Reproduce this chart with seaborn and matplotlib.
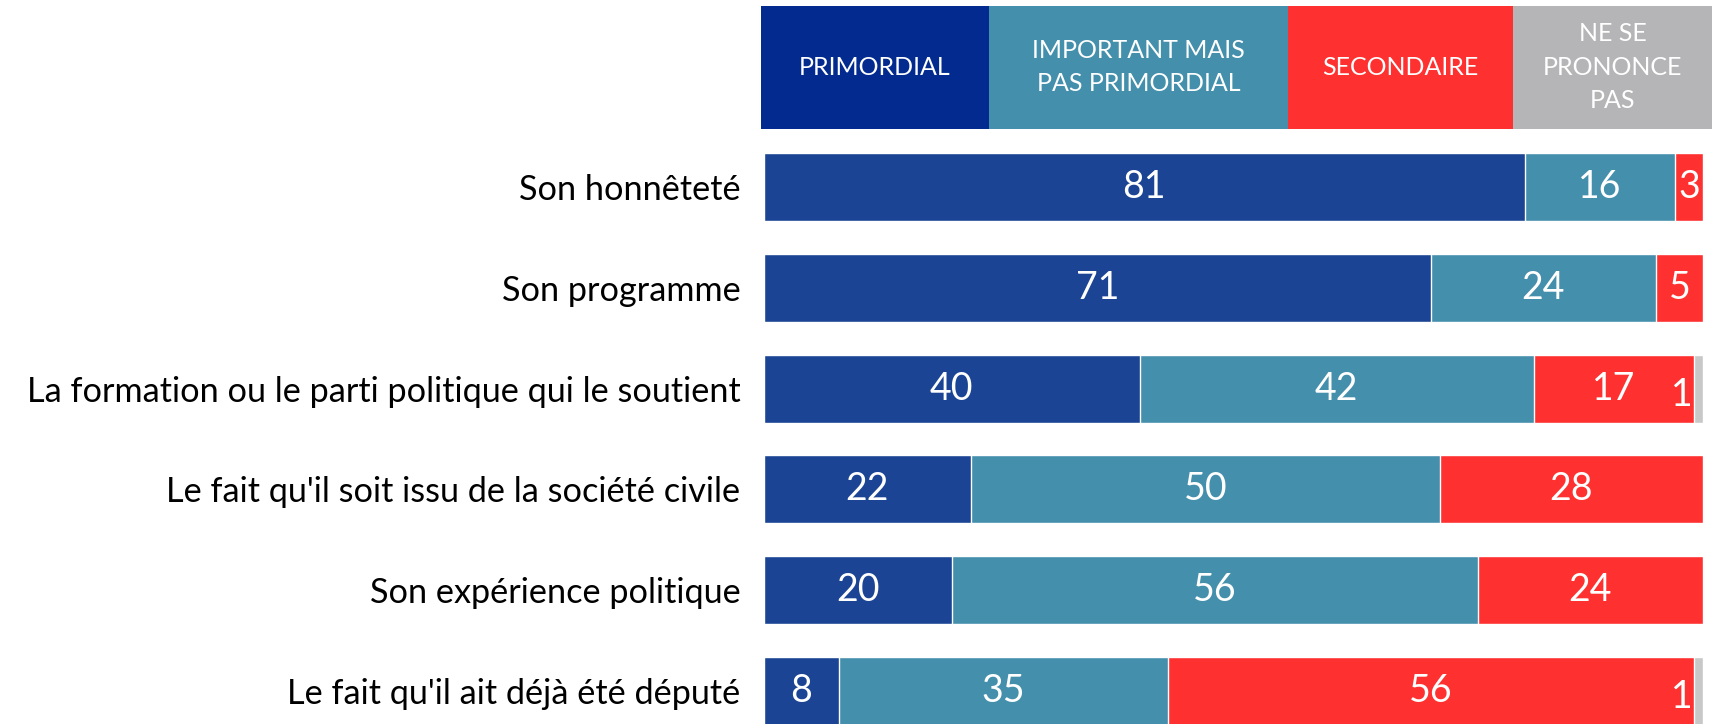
import matplotlib
matplotlib.use("Agg")
import matplotlib.pyplot as plt
import seaborn as sns
import numpy as np
import pandas as pd

categories = ["Son honnêteté", "Son programme",
              "La formation ou le parti politique qui le soutient",
              "Le fait qu'il soit issu de la société civile",
              "Son expérience politique",
              "Le fait qu'il ait déjà été député"]
series_names = ["PRIMORDIAL", "IMPORTANT MAIS\nPAS PRIMORDIAL", "SECONDAIRE", "NE SE\nPRONONCE\nPAS"]
primordial = [81, 71, 40, 22, 20, 8]
important = [16, 24, 42, 50, 56, 35]
secondaire = [3, 5, 17, 28, 24, 56]
nsp = [0, 0, 1, 0, 0, 1]

bar_colors = ["#1B4594", "#448FAB", "#FF3030", "#C8C8C8"]
head_colors = ["#032B8F", "#448FAB", "#FF3030", "#B5B5B7"]

sns.set_style("white")
plt.rcParams["font.family"] = ["Lato", "DejaVu Sans"]

W, H = 1712, 724
fig = plt.figure(figsize=(W / 100, H / 100), dpi=100)

# main axes
ax = fig.add_axes([764 / W, 0, (1703 - 764) / W, 584 / H])
series = [primordial, important, secondaire, nsp]
cum = np.cumsum(np.array(series, dtype=float), axis=0)
for k in range(3, -1, -1):
    df = pd.DataFrame({"cat": categories, "val": cum[k]})
    sns.barplot(data=df, y="cat", x="val", orient="h", color=bar_colors[k],
                width=0.674, saturation=1, ax=ax, order=categories)
ax.set_xlim(0, 100)
ax.set_ylim(5.325, -0.463)
ax.set_xlabel("")
ax.set_ylabel("")
ax.set_xticks([])
for s in ax.spines.values():
    s.set_visible(False)
ax.tick_params(axis="y", length=0, pad=17, labelsize=24.7, labelcolor="black")

starts = np.vstack([np.zeros(len(categories)), cum[:-1]])
for k in range(4):
    for i in range(len(categories)):
        v = series[k][i]
        if v == 0:
            continue
        if k == 3:
            ax.text(starts[k][i] - 0.1, i + 0.06, str(v), ha="right", va="center",
                    color="white", fontsize=27)
        else:
            ax.text(starts[k][i] + v / 2, i, str(v), ha="center", va="center",
                    color="white", fontsize=27)

# header legend
hax = fig.add_axes([761 / W, (H - 129) / H, (W - 761) / W, (129 - 5.5) / H])
edges = [0, 228, 527, 752, 951]
for k in range(4):
    hax.axvspan(edges[k], edges[k + 1], color=head_colors[k], lw=0)
    hax.text((edges[k] + edges[k + 1]) / 2, 0.5, series_names[k], ha="center",
             va="center", color="white", fontsize=18, linespacing=1.55)
hax.set_xlim(0, 951)
hax.set_ylim(0, 1)
hax.axis("off")

fig.savefig("out.png", dpi=100)
